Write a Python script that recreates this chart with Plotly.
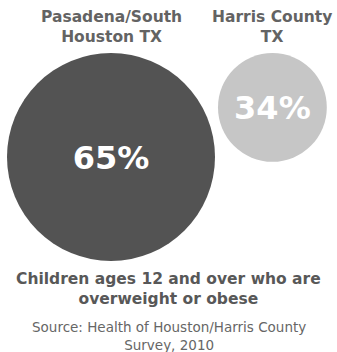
import plotly.graph_objects as go

# Data
categories = ["Pasadena/South<br>Houston TX", "Harris County<br>TX"]
values = [65, 34]
value_labels = ["65%", "34%"]
colors = ["#535353", "#c6c6c6"]

W, H = 337, 352
px_per_pct = 3.2   # diameter in px per percentage point
left_edge = 7
top_edge = 53
gap = 3
text_nudge = 4

diam = [v * px_per_pct for v in values]
xs = []
cur = left_edge
for d in diam:
    xs.append(cur + d / 2)
    cur += d + gap
ys = [top_edge + d / 2 for d in diam]

fig = go.Figure()
fig.add_trace(go.Scatter(
    x=xs, y=ys,
    mode="markers",
    marker=dict(size=diam, sizemode="diameter", color=colors, line=dict(width=0), opacity=1),
    hoverinfo="skip",
    showlegend=False,
))
fig.add_trace(go.Scatter(
    x=xs, y=[y + text_nudge for y in ys],
    mode="text",
    text=value_labels,
    textposition="middle center",
    textfont=dict(family="DejaVu Sans", size=32, color="white", weight="bold"),
    hoverinfo="skip",
    showlegend=False,
))

for x, cat in zip(xs, categories):
    fig.add_annotation(
        x=x, y=27, xref="x", yref="y", text=f"<b>{cat}</b>", showarrow=False,
        font=dict(family="DejaVu Sans", size=15.5, color="#636363"),
        xanchor="center", yanchor="middle", align="center",
    )

fig.add_annotation(
    x=W / 2, y=289, xref="x", yref="y",
    text="<b>Children ages 12 and over who are<br>overweight or obese</b>",
    showarrow=False, font=dict(family="DejaVu Sans", size=15.5, color="#585858"),
    xanchor="center", yanchor="middle", align="center",
)
fig.add_annotation(
    x=W / 2, y=336, xref="x", yref="y",
    text="Source: Health of Houston/Harris County<br>Survey, 2010",
    showarrow=False, font=dict(family="DejaVu Sans", size=13.5, color="#666666"),
    xanchor="center", yanchor="middle", align="center",
)

fig.update_layout(
    width=W, height=H,
    margin=dict(l=0, r=0, t=0, b=0),
    paper_bgcolor="white", plot_bgcolor="white",
    xaxis=dict(range=[0, W], visible=False, fixedrange=True),
    yaxis=dict(range=[H, 0], visible=False, fixedrange=True),
)

fig.write_html("out.html", config={"displayModeBar": False},
               post_script="document.body.style.margin='0';document.body.style.overflow='hidden';")
